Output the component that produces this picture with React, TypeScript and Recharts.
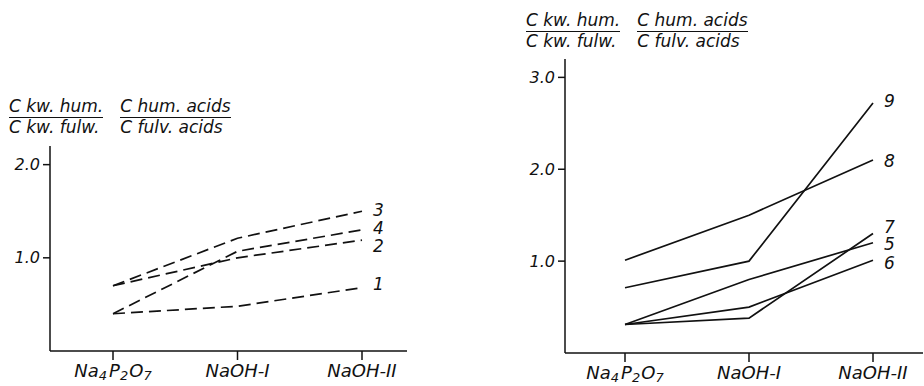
import { LineChart, Line, XAxis, YAxis } from "recharts"

const categories = ["Na4P2O7", "NaOH-I", "NaOH-II"]

// left panel (dashed)
const s1 = [0.4, 0.48, 0.68]
const s2 = [0.7, 1.0, 1.19]
const s3 = [0.7, 1.21, 1.5]
const s4 = [0.4, 1.07, 1.3]

// right panel (solid)
const s5 = [0.31, 0.8, 1.2]
const s6 = [0.31, 0.5, 1.01]
const s7 = [0.31, 0.38, 1.3]
const s8 = [1.01, 1.5, 2.1]
const s9 = [0.71, 1.0, 2.72]

const leftTicks = [1, 2]
const rightTicks = [1, 2, 3]

const leftSeries = [
  { key: "1", values: s1 },
  { key: "2", values: s2 },
  { key: "3", values: s3 },
  { key: "4", values: s4 },
]
const rightSeries = [
  { key: "5", values: s5 },
  { key: "6", values: s6 },
  { key: "7", values: s7 },
  { key: "8", values: s8 },
  { key: "9", values: s9 },
]

const build = (series: { key: string; values: number[] }[]) =>
  categories.map((c, i) => {
    const row: Record<string, string | number> = { cat: c }
    series.forEach((s) => (row[s.key] = s.values[i]))
    return row
  })

const leftData = build(leftSeries)
const rightData = build(rightSeries)

// vertical nudge of the end labels
const labelShift: Record<string, number> = {
  "1": -4, "2": 6, "3": -1, "4": -2,
  "5": 1, "6": 3, "7": -7, "8": 1, "9": -2,
}

const FONT = "'DejaVu Sans', sans-serif"

function CatTick(props: any) {
  const { x, y, payload } = props
  const v: string = payload.value
  const style = { fontFamily: FONT, fontStyle: "italic" as const }
  if (v === "Na4P2O7") {
    return (
      <text x={x} y={y + 15} textAnchor="middle" fontSize={18} fill="#111" style={style}>
        <tspan>Na</tspan>
        <tspan dy={3} fontSize={13}>4</tspan>
        <tspan dy={-3} dx={2}>P</tspan>
        <tspan dy={3} fontSize={13}>2</tspan>
        <tspan dy={-3} dx={1}>O</tspan>
        <tspan dy={3} fontSize={13}>7</tspan>
      </text>
    )
  }
  return (
    <text x={x} y={y + 15} textAnchor="middle" fontSize={18} fill="#111" style={style}>
      {v}
    </text>
  )
}

function endLabel(name: string) {
  return (p: any) => {
    if (p.index !== categories.length - 1) return null
    return (
      <text
        key={name}
        x={p.x + 11}
        y={p.y + labelShift[name]}
        dy="0.36em"
        fontSize={17}
        fill="#111"
        style={{ fontFamily: FONT, fontStyle: "italic" }}
      >
        {name}
      </text>
    )
  }
}

function Fraction({ top, bottom }: { top: string; bottom: string }) {
  return (
    <div style={{ display: "inline-block", marginRight: 17 }}>
      <div style={{ borderBottom: "1.5px solid #111", lineHeight: "17px", paddingBottom: 2 }}>{top}</div>
      <div style={{ lineHeight: "19px" }}>{bottom}</div>
    </div>
  )
}

function Title({ left, top }: { left: number; top: number }) {
  return (
    <div
      style={{
        position: "absolute",
        left,
        top,
        fontFamily: FONT,
        fontStyle: "italic",
        fontSize: 17,
        color: "#111",
        whiteSpace: "nowrap",
      }}
    >
      <Fraction top="C kw. hum." bottom="C kw. fulw." />
      <Fraction top="C hum. acids" bottom="C fulv. acids" />
    </div>
  )
}

const yTick = { fontSize: 16, fill: "#111", fontFamily: FONT, fontStyle: "italic" }

export default function App() {
  return (
    <div style={{ position: "absolute", left: 0, top: 0, width: 924, height: 386, background: "#fff" }}>
      <Title left={9} top={98} />
      <Title left={526} top={12} />

      <div style={{ position: "absolute", left: 0, top: 0 }}>
        <LineChart width={440} height={386} data={leftData} margin={{ top: 146, right: 33, bottom: 0, left: 0 }}>
          <XAxis
            dataKey="cat"
            height={35}
            padding={{ left: 63, right: 45 }}
            axisLine={{ stroke: "#111", strokeWidth: 1.5 }}
            tickLine={{ stroke: "#111", strokeWidth: 1.5 }}
            tickSize={9}
            tickMargin={2}
            tick={<CatTick />}
          />
          <YAxis
            domain={[0, 2.2]}
            ticks={leftTicks}
            width={50}
            axisLine={{ stroke: "#111", strokeWidth: 1.5 }}
            tickLine={{ stroke: "#111", strokeWidth: 1.5 }}
            tickSize={7}
            tickMargin={3}
            tick={yTick}
            tickFormatter={(v: number) => v.toFixed(1)}
          />
          {leftSeries.map((s) => (
            <Line
              key={s.key}
              dataKey={s.key}
              stroke="#111"
              strokeWidth={1.7}
              strokeDasharray="12 6"
              dot={false}
              isAnimationActive={false}
              label={endLabel(s.key)}
            />
          ))}
        </LineChart>
      </div>

      <div style={{ position: "absolute", left: 515, top: 0 }}>
        <LineChart width={409} height={386} data={rightData} margin={{ top: 59, right: 1, bottom: 0, left: 0 }}>
          <XAxis
            dataKey="cat"
            height={33}
            padding={{ left: 60, right: 50 }}
            axisLine={{ stroke: "#111", strokeWidth: 1.5 }}
            tickLine={{ stroke: "#111", strokeWidth: 1.5 }}
            tickSize={9}
            tickMargin={2}
            tick={<CatTick />}
          />
          <YAxis
            domain={[0, 3.2]}
            ticks={rightTicks}
            width={50}
            axisLine={{ stroke: "#111", strokeWidth: 1.5 }}
            tickLine={{ stroke: "#111", strokeWidth: 1.5 }}
            tickSize={7}
            tickMargin={3}
            tick={yTick}
            tickFormatter={(v: number) => v.toFixed(1)}
          />
          {rightSeries.map((s) => (
            <Line
              key={s.key}
              dataKey={s.key}
              stroke="#111"
              strokeWidth={1.7}
              dot={false}
              isAnimationActive={false}
              label={endLabel(s.key)}
            />
          ))}
        </LineChart>
      </div>
    </div>
  )
}
